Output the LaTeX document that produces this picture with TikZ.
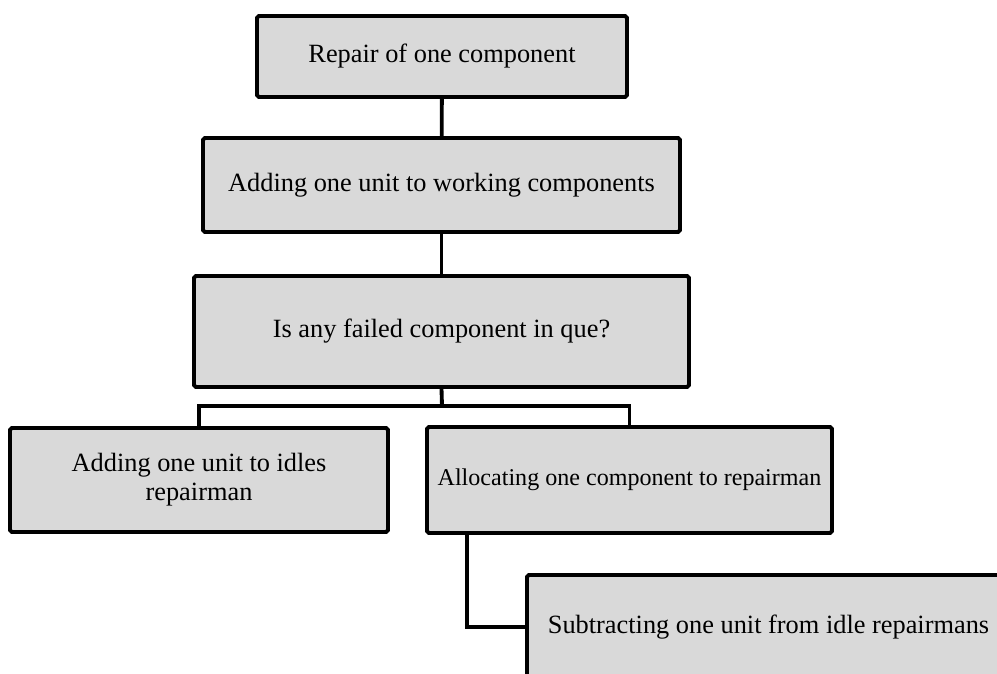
\documentclass[tikz,border=0pt]{standalone}
\usepackage{fontspec}
\setmainfont{Liberation Serif}
\usepackage{xcolor}
\usetikzlibrary{positioning, calc}
\definecolor{boxgray}{RGB}{217,217,217}

\begin{document}
\begin{tikzpicture}[
    x=0.02cm, y=-0.02cm,
    every node/.style={font=\fontsize{15}{16.5}\selectfont},
    stepbox/.style={draw=black, fill=boxgray, line width=2.2pt,
                    rounded corners=1pt, inner sep=0pt, align=center},
    link/.style={line width=2.2pt}
]
% ========== 画布 ==========
\useasboundingbox (0,0) rectangle (997,673);
\clip (0,0) rectangle (997,673);

% ========== 方框 ==========
\node[stepbox, minimum width=7.4cm, minimum height=1.62cm] (repair) at (442,56.5) {Repair of one component};
\node[stepbox, minimum width=9.54cm, minimum height=1.88cm] (working) at (441.5,185) {Adding one unit to working components};
\node[stepbox, minimum width=9.9cm, minimum height=2.22cm] (queue) at (441.5,331.5) {Is any failed component in que?};
\node[stepbox, minimum width=7.56cm, minimum height=2.08cm] (idle) at (199,480) {Adding one unit to idles\\repairman};
\node[stepbox, minimum width=8.1cm, minimum height=2.12cm, font=\fontsize{13.7}{16}\selectfont] (alloc) at (629.5,480) {Allocating one component to repairman};
\node[stepbox, minimum width=9.66cm, minimum height=2.08cm] (subtract) at (768.5,627) {Subtracting one unit from idle repairmans};

% ========== 连线 ==========
\coordinate (split) at (442,406);
\draw[link] (repair) -- (working);
\draw[link] (working) -- (queue);
\draw[link] (queue.south) -- (split);
\draw[link] (idle.north) -- (idle.north |- split) -- (alloc.north |- split) -- (alloc.north);
\draw[link] ([xshift=0.84cm]alloc.south west) |- (subtract.west);

\end{tikzpicture}
\end{document}
